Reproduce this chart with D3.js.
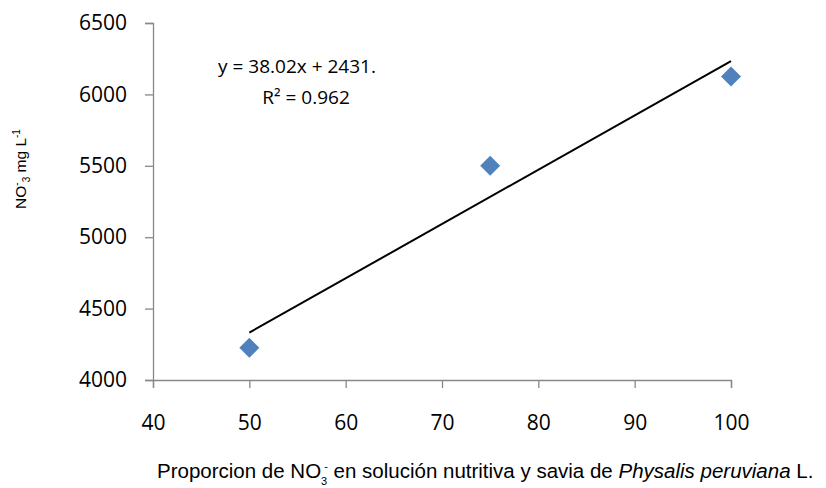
<!doctype html>
<html lang="en">
    <head>
        <meta charset="utf-8">
        <title>NO3 scatter</title>
        <style>
            body { margin: 0; background: #fff; }
        </style>
    </head>
    <body>
        <script src="https://cdnjs.cloudflare.com/ajax/libs/d3/7.8.5/d3.min.js"></script>
        <script>
            // data
            var proportion = [50, 75, 100];
            var nitrate = [4225, 5500, 6125];
            var xTicks = [40, 50, 60, 70, 80, 90, 100];
            var yTicks = [4000, 4500, 5000, 5500, 6000, 6500];
            var slope = 38.02;
            var intercept = 2431;
            var eqLabel = "y = 38.02x + 2431.";
            var r2Label = "R² = 0.962";

            var w = 826, h = 488;

            var svg = d3.select("body")
                        .append("svg")
                        .attr("width", w)
                        .attr("height", h);

            var x = d3.scaleLinear().domain([40, 100]).range([153, 731]);
            var y = d3.scaleLinear().domain([4000, 6500]).range([380, 23]);

            var tickFont = "'Open Sans', sans-serif";

            // y axis
            var yAxis = svg.append("g")
                .attr("transform", "translate(" + x(40) + ",0)")
                .call(d3.axisLeft(y).tickValues(yTicks).tickSize(8).tickPadding(18).tickFormat(d3.format("d")));

            // x axis
            var xAxis = svg.append("g")
                .attr("transform", "translate(0," + y(4000) + ")")
                .call(d3.axisBottom(x).tickValues(xTicks).tickSize(8).tickPadding(27).tickFormat(d3.format("d")));

            [yAxis, xAxis].forEach(function(g) {
                g.select(".domain").attr("stroke", "#888").attr("stroke-width", 1.3);
                g.selectAll(".tick line").attr("stroke", "#888").attr("stroke-width", 1.3);
                g.selectAll(".tick text")
                    .attr("fill", "#000")
                    .style("font-family", tickFont)
                    .style("font-size", "21px");
            });

            // trend line
            svg.append("line")
                .attr("x1", x(50))
                .attr("y1", y(slope * 50 + intercept))
                .attr("x2", x(100))
                .attr("y2", y(slope * 100 + intercept))
                .attr("stroke", "#000")
                .attr("stroke-width", 2);

            // diamonds
            svg.selectAll("path.pt")
               .data(proportion)
               .enter()
               .append("path")
               .attr("class", "pt")
               .attr("d", "M0,-10L10,0L0,10L-10,0Z")
               .attr("transform", function(d, i) {
                    return "translate(" + x(d) + "," + y(nitrate[i]) + ")";
               })
               .attr("fill", "#4f81bd");

            // equation
            svg.append("text")
                .attr("x", 297).attr("y", 73)
                .attr("text-anchor", "middle")
                .style("font-family", tickFont).style("font-size", "19px")
                .text(eqLabel);
            svg.append("text")
                .attr("x", 306).attr("y", 104)
                .attr("text-anchor", "middle")
                .style("font-family", tickFont).style("font-size", "19px")
                .text(r2Label);

            // y title
            var yt = svg.append("text")
                .attr("transform", "translate(26,169) rotate(-90)")
                .attr("text-anchor", "middle")
                .style("font-family", "'Liberation Sans', Arial, sans-serif")
                .style("font-size", "15.5px");
            yt.append("tspan").text("NO");
            yt.append("tspan").attr("dy", -6).style("font-size", "10px").text("-");
            yt.append("tspan").attr("dy", 10).style("font-size", "10px").text("3");
            yt.append("tspan").attr("dy", -4).text(" mg L");
            yt.append("tspan").attr("dy", -6).style("font-size", "10px").text("-1");

            // x title
            var xt = svg.append("text")
                .attr("x", 157).attr("y", 478)
                .style("font-family", "'Liberation Sans', Arial, sans-serif")
                .style("font-size", "20.5px");
            xt.append("tspan").text("Proporcion de NO");
            xt.append("tspan").attr("dy", 7).style("font-size", "11px").text("3");
            xt.append("tspan").attr("dx", -3).attr("dy", -15).style("font-size", "11px").text("-");
            xt.append("tspan").attr("dy", 8).text(" en solución nutritiva y savia de ");
            xt.append("tspan").style("font-style", "italic").text("Physalis peruviana");
            xt.append("tspan").text(" L.");
        </script>
    </body>
</html>
